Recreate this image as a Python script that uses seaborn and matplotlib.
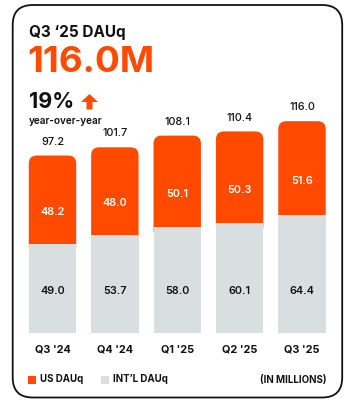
import matplotlib
matplotlib.use("Agg")
import seaborn as sns
import matplotlib.pyplot as plt
from matplotlib.patches import FancyBboxPatch, Rectangle, FancyArrow

# Data (millions)
quarters = ["Q3 '24", "Q4 '24", "Q1 '25", "Q2 '25", "Q3 '25"]
us_dau = [48.2, 48.0, 50.1, 50.3, 51.6]
intl_dau = [49.0, 53.7, 58.0, 60.1, 64.4]
total_dau = [97.2, 101.7, 108.1, 110.4, 116.0]

ORANGE = "#FF4A00"
GRAY = "#D9DEE1"
INK = "#111111"

sns.set_theme(style="white")
plt.rcParams["font.family"] = ["Inter", "DejaVu Sans"]

W, H = 357, 413
fig = plt.figure(figsize=(W / 100, H / 100), dpi=100)

# Background axes in pixel coordinates for the card and header texts
bg = fig.add_axes([0, 0, 1, 1])
bg.set_xlim(0, W)
bg.set_ylim(H, 0)
bg.axis("off")
bg.add_patch(FancyBboxPatch((12.7, 5), 329.5, 392.5,
                            boxstyle="round,pad=0,rounding_size=20",
                            fc="white", ec=INK, lw=1.3))

bg.text(29, 32, "Q3 \u201825 DAUq", fontsize=11, fontweight="bold",
        color=INK, va="center", ha="left")
bg.text(27.5, 63, "116.0M", fontsize=26.5, fontweight="bold",
        color=ORANGE, va="center", ha="left")
bg.text(29, 101.5, "19%", fontsize=15.5, fontweight="bold",
        color=INK, va="center", ha="left")
bg.add_patch(FancyArrow(89.5, 109.5, 0, -15.5, width=6, head_width=17,
                        head_length=8, length_includes_head=True,
                        fc=ORANGE, ec="none"))
bg.text(29, 120.5, "year-over-year", fontsize=7.2, fontweight="semibold",
        color=INK, va="center", ha="left")

# Legend
bg.add_patch(Rectangle((28, 375.5), 8, 8, fc=ORANGE, ec="none"))
bg.text(40.5, 379.5, "US DAUq", fontsize=7, fontweight="bold",
        color=INK, va="center", ha="left")
bg.add_patch(Rectangle((101, 375.5), 8, 8, fc=GRAY, ec="none"))
bg.text(113, 379.5, "INT\u2019L DAUq", fontsize=7, fontweight="bold",
        color=INK, va="center", ha="left")
bg.text(326, 379.5, "(IN MILLIONS)", fontsize=7, fontweight="bold",
        color=INK, va="center", ha="right")

# Bar axes: 62.4 px per category, 1.826 px per million
x0, x1 = 21.3, 333.2
y_base, y_top = 333, 93
ax = fig.add_axes([x0 / W, (H - y_base) / H, (x1 - x0) / W, (y_base - y_top) / H])
ax.set_facecolor("none")
ymax = (y_base - y_top) / 1.826

sns.barplot(x=quarters, y=total_dau, color=ORANGE, saturation=1,
            width=0.76, linewidth=0, ax=ax)

# round the top corners of the total bars; start them just inside the
# grey bar so no orange fringe shows along the grey sides
px_per_x = (x1 - x0) / 5
px_per_y = 1.826
radius_px = 8
for p, n in zip(list(ax.patches), intl_dau):
    y0 = n - 6
    fb = FancyBboxPatch((p.get_x(), y0), p.get_width(), p.get_height() - y0,
                        boxstyle=f"round,pad=0,rounding_size={radius_px / px_per_x}",
                        mutation_aspect=px_per_x / px_per_y,
                        fc=ORANGE, ec="none", lw=0)
    p.remove()
    ax.add_patch(fb)

sns.barplot(x=quarters, y=intl_dau, color=GRAY, saturation=1,
            width=0.76, linewidth=0, ax=ax)

for i, (u, n, t) in enumerate(zip(us_dau, intl_dau, total_dau)):
    ax.text(i, t + 7.6, f"{t:.1f}", ha="center", va="center",
            fontsize=7.8, fontweight="medium", color=INK)
    ax.text(i, n + 0.36 * u, f"{u:.1f}", ha="center", va="center",
            fontsize=7.8, fontweight="semibold", color="white")
    ax.text(i, 23.2, f"{n:.1f}", ha="center", va="center",
            fontsize=7.8, fontweight="semibold", color=INK)

ax.set_xlim(-0.5, 4.5)
ax.set_ylim(0, ymax)
ax.set_yticks([])
ax.set_xlabel("")
ax.set_ylabel("")
sns.despine(ax=ax, left=True, bottom=True)
ax.tick_params(axis="x", length=0, pad=8.5)
for lab in ax.get_xticklabels():
    lab.set_fontsize(7.8)
    lab.set_fontweight("bold")
    lab.set_color(INK)

fig.savefig("out.png", dpi=100)
